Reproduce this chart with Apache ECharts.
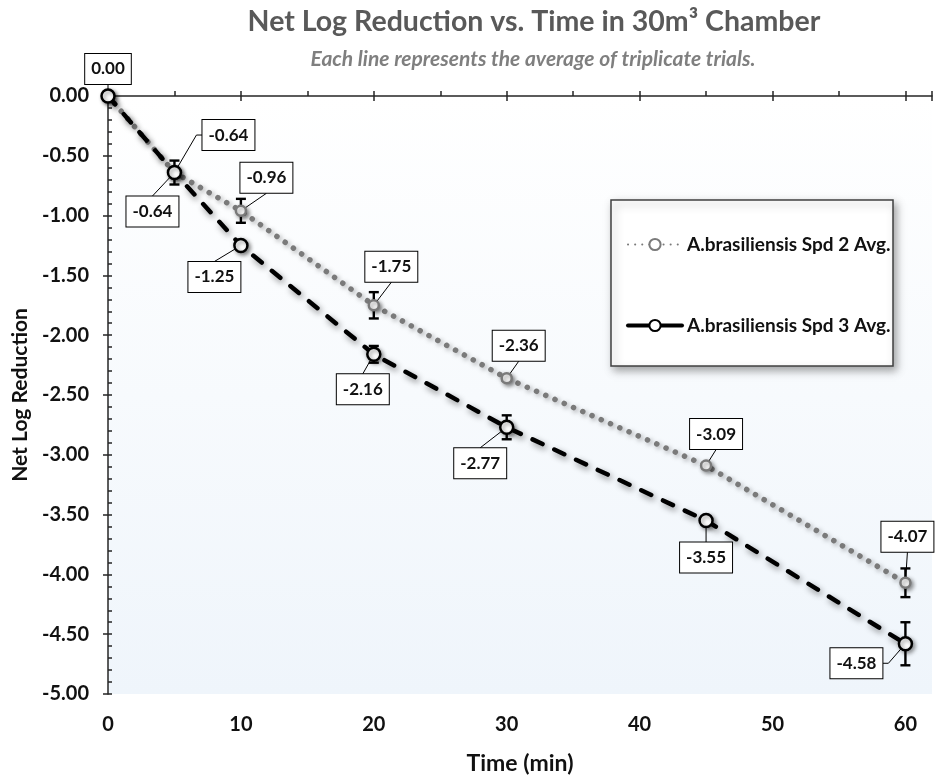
<!DOCTYPE html>
<html>
<head>
<meta charset="utf-8">
<script src="https://cdn.jsdelivr.net/npm/echarts@6/dist/echarts.min.js"></script>
<style>html,body{margin:0;padding:0;background:#fff;}#c{width:935px;height:780px;}</style>
</head>
<body>
<div id="c"></div>
<script>
// ---- data ----
const times = [0, 5, 10, 20, 30, 45, 60];
const spd2 = [0.00, -0.64, -0.96, -1.75, -2.36, -3.09, -4.07];
const spd3 = [0.00, -0.64, -1.25, -2.16, -2.77, -3.55, -4.58];
const err2 = [0, 0, 0.10, 0.11, 0.02, 0.02, 0.12];
const err3 = [0, 0.10, 0, 0.07, 0.10, 0, 0.18];
const xTickLabels = [0, 10, 20, 30, 40, 50, 60];
const seriesNames = ['A.brasiliensis Spd 2 Avg.', 'A.brasiliensis Spd 3 Avg.'];
const showLabel2 = [true, true, true, true, true, true, true];
const showLabel3 = [false, true, true, true, true, true, true];

// ---- label layout (pixel offsets of label boxes from their points) ----
const labelOffsets2 = [[0,-27],[54,-37.5],[25.5,-33],[17.5,-38.5],[12,-32.5],[10,-31.5],[2,-46]];
const labelOffsets3 = [[0,0],[-22,39],[-26.5,31.5],[-11,35],[-26.5,36],[0,37],[-49,19.5]];

const FONT = 'Lato';
const chart = echarts.init(document.getElementById('c'));

function errItem(params, api) {
  const x = api.value(0), y = api.value(1), e = api.value(2);
  if (!e) return {type: 'group', children: []};
  const p1 = api.coord([x, y + e]), p2 = api.coord([x, y - e]);
  const cw = 5;
  const st = {stroke: '#000', lineWidth: 2.4};
  return {type: 'group', children: [
    {type: 'line', shape: {x1: p1[0], y1: p1[1], x2: p2[0], y2: p2[1]}, style: st},
    {type: 'line', shape: {x1: p1[0]-cw, y1: p1[1], x2: p1[0]+cw, y2: p1[1]}, style: st},
    {type: 'line', shape: {x1: p2[0]-cw, y1: p2[1], x2: p2[0]+cw, y2: p2[1]}, style: st}
  ]};
}

function makeLeader(offsets, show, symR) {
  return function (params, api) {
    const i = params.dataIndex;
    if (!show[i]) return {type: 'group', children: []};
    const p = api.coord([api.value(0), api.value(1)]);
    const dx = offsets[i][0], dy = offsets[i][1];
    const bx = p[0] + dx, by = p[1] + dy;
    const hw = 26, hh = 15.5;
    let pts;
    if (p[0] >= bx - hw - 4 && p[0] <= bx + hw + 4) {
      const ey = dy < 0 ? by + hh : by - hh;
      pts = [[p[0], p[1]], [bx, ey]];
    } else {
      const side = p[0] < bx ? bx - hw : bx + hw;
      const tail = p[0] < bx ? side - 6 : side + 6;
      pts = [[p[0], p[1]], [tail, by], [side, by]];
    }
    const d = Math.hypot(pts[1][0] - p[0], pts[1][1] - p[1]);
    if (d - symR < 6) return {type: 'group', children: []};
    return {type: 'polyline', shape: {points: pts}, style: {stroke: '#000', lineWidth: 1, fill: null}};
  };
}

function makeBox(offsets, show) {
  return function (params, api) {
    const i = params.dataIndex;
    if (!show[i]) return {type: 'group', children: []};
    const v = api.value(1);
    const p = api.coord([api.value(0), v]);
    return {
      type: 'text',
      style: {
        text: v.toFixed(2), x: p[0] + offsets[i][0], y: p[1] + offsets[i][1],
        align: 'center', verticalAlign: 'middle',
        font: 'bold 17px ' + FONT, fill: '#111',
        backgroundColor: '#fff', borderColor: '#000', borderWidth: 1,
        padding: [5, 6, 5, 6], lineHeight: 20
      }
    };
  };
}

const d2 = times.map((t, i) => [t, spd2[i]]);
const d3 = times.map((t, i) => [t, spd3[i]]);
const e2 = times.map((t, i) => [t, spd2[i], err2[i]]);
const e3 = times.map((t, i) => [t, spd3[i], err3[i]]);

const axisTxt = {fontFamily: FONT, fontWeight: 'bold', fontSize: 20, color: '#111'};
const axisLineStyle = {color: '#262626', width: 1.5};

chart.setOption({
  animation: false,
  graphic: [
    {type: 'text', x: 534, y: 22, style: {text: 'Net Log Reduction vs. Time in 30m³ Chamber', align: 'center', verticalAlign: 'middle', font: 'bold 28.5px ' + FONT, fill: '#595959'}},
    {type: 'text', x: 533, y: 59, style: {text: 'Each line represents the average of triplicate trials.', align: 'center', verticalAlign: 'middle', font: 'italic bold 21px ' + FONT, fill: '#7f7f7f'}},
    {type: 'rect', z: 5, shape: {x: 611, y: 200, width: 282, height: 166}, style: {fill: '#fff', stroke: '#404040', lineWidth: 1.5, shadowBlur: 8, shadowOffsetX: 3, shadowOffsetY: 4, shadowColor: 'rgba(0,0,0,0.35)'}}
  ],
  legend: {
    z: 10, orient: 'vertical', left: 621, top: 230, itemWidth: 54, itemHeight: 14, itemGap: 62,
    textStyle: {fontFamily: FONT, fontWeight: 'bold', fontSize: 19, color: '#111'},
    data: [
      {name: seriesNames[0], lineStyle: {type: [0.1, 7]}},
      {name: seriesNames[1], lineStyle: {type: 'solid', width: 4}}
    ]
  },
  grid: {
    left: 108, right: 0, top: 96, bottom: 84, show: true, borderWidth: 0,
    backgroundColor: new echarts.graphic.LinearGradient(0, 0, 0, 1, [{offset: 0, color: '#ffffff'}, {offset: 1, color: '#eff5fb'}])
  },
  xAxis: [
    {type: 'value', min: 0, max: 62, interval: 10, position: 'bottom',
     name: 'Time (min)', nameLocation: 'middle', nameGap: 58,
     nameTextStyle: {fontFamily: FONT, fontWeight: 'bold', fontSize: 23, color: '#111'},
     axisLine: {show: true, lineStyle: axisLineStyle},
     axisTick: {show: true, inside: false, length: 5, lineStyle: axisLineStyle},
     axisLabel: Object.assign({margin: 21, formatter: v => (xTickLabels.indexOf(v) >= 0 ? String(v) : '')}, axisTxt),
     splitLine: {show: false}},
    {type: 'value', min: 0, max: 62, interval: 5, position: 'bottom',
     axisLine: {show: false}, axisLabel: {show: false}, splitLine: {show: false},
     axisTick: {show: true, inside: true, length: 5, lineStyle: axisLineStyle}}
  ],
  yAxis: [
    {type: 'value', min: -5, max: 0, interval: 0.5, position: 'left',
     name: 'Net Log Reduction', nameLocation: 'middle', nameGap: 70,
     nameTextStyle: {fontFamily: FONT, fontWeight: 'bold', fontSize: 21, color: '#111'},
     axisLine: {show: true, lineStyle: axisLineStyle},
     axisTick: {show: true, inside: false, length: 5, lineStyle: axisLineStyle},
     axisLabel: Object.assign({margin: 19, formatter: v => v.toFixed(2)}, axisTxt),
     splitLine: {show: false}},
    {type: 'value', min: -5, max: 0, interval: 0.1, position: 'left',
     axisLine: {show: false}, axisLabel: {show: false}, splitLine: {show: false},
     axisTick: {show: true, inside: true, length: 4, lineStyle: axisLineStyle}}
  ],
  series: [
    {type: 'custom', z: 1, renderItem: errItem, data: e2, silent: true},
    {type: 'custom', z: 1, renderItem: errItem, data: e3, silent: true},
    {type: 'custom', z: 1, renderItem: makeLeader(labelOffsets2, showLabel2, 5), data: d2, silent: true},
    {type: 'custom', z: 1, renderItem: makeLeader(labelOffsets3, showLabel3, 6.5), data: d3, silent: true},
    {name: seriesNames[0], type: 'line', z: 3, data: d2, symbol: 'circle', symbolSize: 10, showAllSymbol: true,
     lineStyle: {color: '#7a7a7a', width: 5.5, type: [0.1, 10], cap: 'round', shadowBlur: 5, shadowColor: 'rgba(0,0,0,0.35)', shadowOffsetX: 2, shadowOffsetY: 2},
     itemStyle: {color: '#fff', borderColor: '#7a7a7a', borderWidth: 2.5, shadowBlur: 4, shadowColor: 'rgba(0,0,0,0.4)', shadowOffsetX: 2, shadowOffsetY: 2}},
    {name: seriesNames[1], type: 'line', z: 4, data: d3, symbol: 'circle', symbolSize: 13, showAllSymbol: true,
     lineStyle: {color: '#000', width: 4.5, type: [11, 13], cap: 'round', shadowBlur: 6, shadowColor: 'rgba(0,0,0,0.45)', shadowOffsetX: 2, shadowOffsetY: 3},
     itemStyle: {color: '#fff', borderColor: '#000', borderWidth: 2.5, shadowBlur: 4, shadowColor: 'rgba(0,0,0,0.4)', shadowOffsetX: 2, shadowOffsetY: 2}},
    {type: 'custom', z: 10, renderItem: makeBox(labelOffsets2, showLabel2), data: d2, silent: true},
    {type: 'custom', z: 10, renderItem: makeBox(labelOffsets3, showLabel3), data: d3, silent: true}
  ]
});
</script>
</body>
</html>
